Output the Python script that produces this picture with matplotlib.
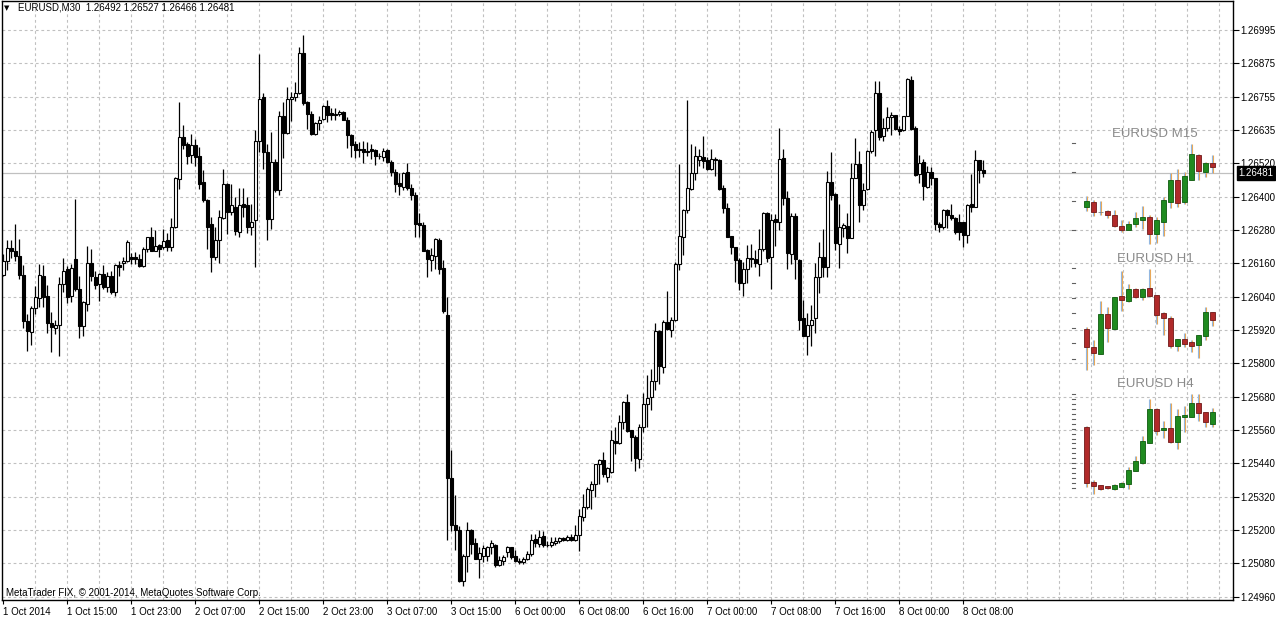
import numpy as np
from matplotlib import pyplot as plt

plt.rcParams['font.family'] = ['Liberation Sans', 'DejaVu Sans']

# EURUSD M30, 1 Oct 07:00 .. 8 Oct 10:30 (one row per ten bars)
opens = [
    1.26115, 1.26167, 1.26213, 1.26203, 1.26184, 1.26115, 1.25951, 1.25909, 1.25997, 1.26033,
    1.26113, 1.26040, 1.25944, 1.25925, 1.25937, 1.26083, 1.26135, 1.26039, 1.26173, 1.26065,
    1.25933, 1.26011, 1.26159, 1.26109, 1.26081, 1.26119, 1.26071, 1.26112, 1.26053, 1.26151,
    1.26159, 1.26165, 1.26181, 1.26179, 1.26174, 1.26147, 1.26208, 1.26251, 1.26203, 1.26223,
    1.26214, 1.26241, 1.26215, 1.26288, 1.26460, 1.26609, 1.26587, 1.26545, 1.26581, 1.26541,
    1.26448, 1.26385, 1.26297, 1.26181, 1.26241, 1.26321, 1.26441, 1.26341, 1.26361, 1.26269,
    1.26369, 1.26365, 1.26288, 1.26311, 1.26597, 1.26755, 1.26556, 1.26317, 1.26520, 1.26420,
    1.26687, 1.26626, 1.26747, 1.26755, 1.26769, 1.26913, 1.26735, 1.26694, 1.26620, 1.26662,
    1.26675, 1.26722, 1.26696, 1.26695, 1.26694, 1.26699, 1.26672, 1.26619, 1.26584, 1.26566,
    1.26566, 1.26562, 1.26566, 1.26565, 1.26543, 1.26539, 1.26565, 1.26522, 1.26485, 1.26445,
    1.26432, 1.26484, 1.26426, 1.26401, 1.26303, 1.26294, 1.26206, 1.26168, 1.26184, 1.26241,
    1.26139, 1.25972, 1.25385, 1.25219, 1.25201, 1.25017, 1.25105, 1.25201, 1.25152, 1.25097,
    1.25107, 1.25107, 1.25137, 1.25147, 1.25075, 1.25089, 1.25119, 1.25137, 1.25107, 1.25089,
    1.25083, 1.25095, 1.25113, 1.25166, 1.25149, 1.25178, 1.25147, 1.25145, 1.25153, 1.25161,
    1.25171, 1.25165, 1.25175, 1.25165, 1.25183, 1.25245, 1.25281, 1.25343, 1.25365, 1.25435,
    1.25451, 1.25391, 1.25407, 1.25519, 1.25511, 1.25587, 1.25659, 1.25557, 1.25535, 1.25455,
    1.25571, 1.25653, 1.25677, 1.25733, 1.25913, 1.25785, 1.25945, 1.25919, 1.25953, 1.26155,
    1.26251, 1.26347, 1.26423, 1.26483, 1.26527, 1.26539, 1.26529, 1.26497, 1.26531, 1.26529,
    1.26427, 1.26355, 1.26255, 1.26215, 1.26169, 1.26085, 1.26135, 1.26175, 1.26171, 1.26155,
    1.26207, 1.26339, 1.26179, 1.26315, 1.26305, 1.26535, 1.26391, 1.26191, 1.26327, 1.26169,
    1.25959, 1.25897, 1.25935, 1.25959, 1.26109, 1.26181, 1.26143, 1.26449, 1.26407, 1.26227,
    1.26283, 1.26291, 1.26247, 1.26463, 1.26513, 1.26365, 1.26423, 1.26559, 1.26635, 1.26769,
    1.26613, 1.26643, 1.26683, 1.26689, 1.26639, 1.26635, 1.26685, 1.26817, 1.26643, 1.26479,
    1.26521, 1.26431, 1.26485, 1.26463, 1.26299, 1.26287, 1.26349, 1.26331, 1.26321, 1.26307,
    1.26307, 1.26257, 1.26371, 1.26361, 1.26527, 1.26492,
]
highs = [
    1.26191, 1.26239, 1.26239, 1.26297, 1.26245, 1.26151, 1.25975, 1.26004, 1.26077, 1.26155,
    1.26151, 1.26079, 1.25981, 1.25953, 1.26107, 1.26177, 1.26149, 1.26155, 1.26389, 1.26113,
    1.26023, 1.26221, 1.26207, 1.26129, 1.26121, 1.26151, 1.26125, 1.26131, 1.26155, 1.26167,
    1.26181, 1.26241, 1.26193, 1.26197, 1.26189, 1.26217, 1.26253, 1.26289, 1.26275, 1.26227,
    1.26281, 1.26265, 1.26321, 1.26467, 1.26735, 1.26655, 1.26593, 1.26623, 1.26605, 1.26575,
    1.26491, 1.26389, 1.26323, 1.26289, 1.26347, 1.26497, 1.26445, 1.26443, 1.26395, 1.26429,
    1.26429, 1.26395, 1.26369, 1.26636, 1.26909, 1.26767, 1.26584, 1.26627, 1.26533, 1.26704,
    1.26737, 1.26791, 1.26771, 1.26807, 1.26935, 1.26978, 1.26739, 1.26704, 1.26664, 1.26687,
    1.26724, 1.26742, 1.26716, 1.26713, 1.26707, 1.26703, 1.26681, 1.26623, 1.26597, 1.26591,
    1.26597, 1.26593, 1.26584, 1.26568, 1.26552, 1.26571, 1.26568, 1.26529, 1.26494, 1.26481,
    1.26485, 1.26516, 1.26442, 1.26414, 1.26337, 1.26307, 1.26210, 1.26213, 1.26249, 1.26249,
    1.26169, 1.26036, 1.25485, 1.25324, 1.25213, 1.25114, 1.25227, 1.25204, 1.25172, 1.25139,
    1.25146, 1.25142, 1.25163, 1.25149, 1.25107, 1.25111, 1.25143, 1.25139, 1.25127, 1.25099,
    1.25103, 1.25123, 1.25185, 1.25185, 1.25199, 1.25197, 1.25159, 1.25173, 1.25175, 1.25175,
    1.25175, 1.25183, 1.25185, 1.25219, 1.25275, 1.25329, 1.25355, 1.25377, 1.25437, 1.25455,
    1.25481, 1.25425, 1.25557, 1.25571, 1.25611, 1.25661, 1.25687, 1.25559, 1.25539, 1.25579,
    1.25691, 1.25757, 1.25779, 1.25941, 1.25917, 1.25955, 1.26057, 1.25963, 1.26163, 1.26515,
    1.26351, 1.26745, 1.26587, 1.26579, 1.26567, 1.26615, 1.26539, 1.26567, 1.26539, 1.26531,
    1.26439, 1.26373, 1.26255, 1.26217, 1.26175, 1.26163, 1.26223, 1.26227, 1.26205, 1.26279,
    1.26343, 1.26343, 1.26335, 1.26335, 1.26643, 1.26569, 1.26415, 1.26337, 1.26337, 1.26171,
    1.26025, 1.25979, 1.26007, 1.26159, 1.26235, 1.26279, 1.26487, 1.26555, 1.26409, 1.26371,
    1.26301, 1.26337, 1.26517, 1.26607, 1.26561, 1.26445, 1.26565, 1.26637, 1.26811, 1.26811,
    1.26679, 1.26719, 1.26699, 1.26691, 1.26651, 1.26687, 1.26823, 1.26829, 1.26649, 1.26547,
    1.26531, 1.26505, 1.26503, 1.26463, 1.26307, 1.26351, 1.26351, 1.26369, 1.26325, 1.26335,
    1.26307, 1.26369, 1.26479, 1.26565, 1.26527, 1.26527,
]
lows = [
    1.26113, 1.26133, 1.26177, 1.26167, 1.26101, 1.25925, 1.25841, 1.25865, 1.25975, 1.26001,
    1.26001, 1.25905, 1.25837, 1.25903, 1.25825, 1.26053, 1.26013, 1.26017, 1.26059, 1.25889,
    1.25897, 1.25987, 1.26095, 1.26065, 1.26021, 1.26065, 1.26053, 1.26047, 1.26041, 1.26113,
    1.26133, 1.26160, 1.26155, 1.26155, 1.26145, 1.26145, 1.26199, 1.26201, 1.26201, 1.26181,
    1.26209, 1.26203, 1.26203, 1.26285, 1.26424, 1.26567, 1.26515, 1.26517, 1.26505, 1.26425,
    1.26377, 1.26209, 1.26125, 1.26169, 1.26157, 1.26317, 1.26261, 1.26329, 1.26257, 1.26251,
    1.26323, 1.26265, 1.26259, 1.26143, 1.26556, 1.26494, 1.26240, 1.26281, 1.26414, 1.26404,
    1.26535, 1.26623, 1.26668, 1.26739, 1.26765, 1.26724, 1.26638, 1.26617, 1.26617, 1.26636,
    1.26672, 1.26664, 1.26672, 1.26671, 1.26685, 1.26671, 1.26571, 1.26539, 1.26535, 1.26539,
    1.26517, 1.26543, 1.26533, 1.26511, 1.26533, 1.26526, 1.26517, 1.26472, 1.26414, 1.26401,
    1.26419, 1.26420, 1.26384, 1.26251, 1.26253, 1.26200, 1.26107, 1.26129, 1.26137, 1.26117,
    1.25980, 1.25165, 1.25195, 1.25127, 1.25013, 1.24998, 1.25047, 1.25114, 1.25094, 1.25027,
    1.25085, 1.25088, 1.25114, 1.25067, 1.25071, 1.25075, 1.25101, 1.25095, 1.25083, 1.25079,
    1.25077, 1.25093, 1.25107, 1.25137, 1.25137, 1.25137, 1.25139, 1.25139, 1.25147, 1.25151,
    1.25159, 1.25159, 1.25161, 1.25161, 1.25125, 1.25233, 1.25275, 1.25275, 1.25319, 1.25365,
    1.25389, 1.25371, 1.25403, 1.25471, 1.25509, 1.25563, 1.25551, 1.25447, 1.25411, 1.25423,
    1.25551, 1.25569, 1.25631, 1.25701, 1.25725, 1.25763, 1.25917, 1.25891, 1.25951, 1.26133,
    1.26187, 1.26339, 1.26419, 1.26457, 1.26505, 1.26499, 1.26493, 1.26493, 1.26471, 1.26421,
    1.26339, 1.26253, 1.26191, 1.26091, 1.26060, 1.26039, 1.26085, 1.26145, 1.26145, 1.26113,
    1.26203, 1.26163, 1.26065, 1.26221, 1.26277, 1.26367, 1.26137, 1.26155, 1.26099, 1.25919,
    1.25897, 1.25827, 1.25859, 1.25905, 1.26051, 1.26109, 1.26109, 1.26385, 1.26205, 1.26139,
    1.26251, 1.26195, 1.26247, 1.26463, 1.26307, 1.26347, 1.26421, 1.26553, 1.26543, 1.26601,
    1.26597, 1.26631, 1.26619, 1.26637, 1.26619, 1.26633, 1.26685, 1.26637, 1.26469, 1.26445,
    1.26383, 1.26427, 1.26439, 1.26275, 1.26271, 1.26279, 1.26283, 1.26313, 1.26263, 1.26241,
    1.26217, 1.26229, 1.26343, 1.26361, 1.26445, 1.26466,
]
closes = [
    1.26167, 1.26213, 1.26201, 1.26184, 1.26115, 1.25949, 1.25913, 1.25997, 1.26035, 1.26115,
    1.26035, 1.25941, 1.25927, 1.25937, 1.26083, 1.26131, 1.26035, 1.26142, 1.26065, 1.25931,
    1.26019, 1.26159, 1.26111, 1.26079, 1.26119, 1.26073, 1.26113, 1.26053, 1.26151, 1.26145,
    1.26167, 1.26232, 1.26172, 1.26172, 1.26147, 1.26209, 1.26251, 1.26203, 1.26220, 1.26209,
    1.26237, 1.26215, 1.26288, 1.26465, 1.26609, 1.26581, 1.26541, 1.26581, 1.26539, 1.26441,
    1.26385, 1.26289, 1.26181, 1.26241, 1.26325, 1.26441, 1.26341, 1.26365, 1.26273, 1.26365,
    1.26359, 1.26289, 1.26307, 1.26597, 1.26747, 1.26556, 1.26317, 1.26520, 1.26420, 1.26687,
    1.26626, 1.26747, 1.26755, 1.26769, 1.26913, 1.26733, 1.26694, 1.26620, 1.26662, 1.26672,
    1.26722, 1.26690, 1.26690, 1.26691, 1.26700, 1.26672, 1.26619, 1.26582, 1.26564, 1.26564,
    1.26558, 1.26557, 1.26560, 1.26542, 1.26543, 1.26562, 1.26520, 1.26485, 1.26442, 1.26436,
    1.26481, 1.26426, 1.26404, 1.26297, 1.26293, 1.26201, 1.26171, 1.26187, 1.26244, 1.26137,
    1.25984, 1.25387, 1.25219, 1.25201, 1.25017, 1.25105, 1.25198, 1.25150, 1.25097, 1.25118,
    1.25136, 1.25137, 1.25152, 1.25075, 1.25093, 1.25103, 1.25139, 1.25101, 1.25087, 1.25083,
    1.25097, 1.25113, 1.25163, 1.25151, 1.25175, 1.25147, 1.25147, 1.25155, 1.25161, 1.25169,
    1.25165, 1.25175, 1.25165, 1.25183, 1.25250, 1.25283, 1.25345, 1.25365, 1.25435, 1.25451,
    1.25399, 1.25421, 1.25521, 1.25513, 1.25587, 1.25659, 1.25555, 1.25533, 1.25457, 1.25571,
    1.25653, 1.25675, 1.25733, 1.25913, 1.25787, 1.25945, 1.25921, 1.25955, 1.26155, 1.26255,
    1.26349, 1.26427, 1.26481, 1.26543, 1.26543, 1.26523, 1.26495, 1.26531, 1.26529, 1.26423,
    1.26355, 1.26253, 1.26215, 1.26169, 1.26085, 1.26137, 1.26175, 1.26171, 1.26157, 1.26207,
    1.26339, 1.26175, 1.26313, 1.26307, 1.26531, 1.26391, 1.26193, 1.26327, 1.26171, 1.25955,
    1.25897, 1.25935, 1.25955, 1.26107, 1.26181, 1.26143, 1.26449, 1.26401, 1.26229, 1.26287,
    1.26295, 1.26247, 1.26463, 1.26513, 1.26365, 1.26421, 1.26559, 1.26629, 1.26769, 1.26611,
    1.26643, 1.26683, 1.26689, 1.26639, 1.26631, 1.26685, 1.26819, 1.26641, 1.26475, 1.26517,
    1.26433, 1.26485, 1.26463, 1.26299, 1.26289, 1.26349, 1.26329, 1.26321, 1.26271, 1.26269,
    1.26257, 1.26367, 1.26359, 1.26527, 1.26491, 1.26481,
]

time_labels = ['1 Oct 2014', '1 Oct 15:00', '1 Oct 23:00', '2 Oct 07:00', '2 Oct 15:00',
               '2 Oct 23:00', '3 Oct 07:00', '3 Oct 15:00', '6 Oct 00:00', '6 Oct 08:00',
               '6 Oct 16:00', '7 Oct 00:00', '7 Oct 08:00', '7 Oct 16:00', '8 Oct 00:00',
               '8 Oct 08:00']
price_labels = ['1.24960', '1.25080', '1.25200', '1.25320', '1.25440', '1.25560', '1.25680',
                '1.25800', '1.25920', '1.26040', '1.26160', '1.26280', '1.26400', '1.26520',
                '1.26635', '1.26755', '1.26875', '1.26995']

# small overlay charts of other timeframes, drawn in the chart's price space
m15_open = [1.26360, 1.26377, 1.26342, 1.26346, 1.26332, 1.26290, 1.26278, 1.26300, 1.26314, 1.26325,
            1.26264, 1.26306, 1.26378, 1.26458, 1.26378, 1.26458, 1.26546, 1.26486, 1.26516]
m15_high = [1.26398, 1.26384, 1.26380, 1.26350, 1.26348, 1.26312, 1.26310, 1.26342, 1.26362, 1.26332,
            1.26324, 1.26394, 1.26480, 1.26494, 1.26486, 1.26586, 1.26550, 1.26522, 1.26546]
m15_low = [1.26346, 1.26328, 1.26332, 1.26320, 1.26286, 1.26270, 1.26276, 1.26288, 1.26282, 1.26226,
           1.26230, 1.26256, 1.26354, 1.26358, 1.26370, 1.26456, 1.26458, 1.26468, 1.26480]
m15_close = [1.26380, 1.26342, 1.26342, 1.26330, 1.26290, 1.26278, 1.26300, 1.26318, 1.26325, 1.26264,
             1.26312, 1.26384, 1.26456, 1.26374, 1.26470, 1.26550, 1.26490, 1.26516, 1.26502]

h1_open = [1.25921, 1.25857, 1.25832, 1.25975, 1.25921, 1.26041, 1.26023, 1.26065, 1.26037, 1.26069,
           1.26043, 1.25979, 1.25961, 1.25861, 1.25887, 1.25875, 1.25865, 1.25897, 1.25981]
h1_high = [1.25929, 1.25881, 1.26021, 1.26001, 1.26037, 1.26129, 1.26081, 1.26069, 1.26067, 1.26137,
           1.26043, 1.25983, 1.25967, 1.25887, 1.25905, 1.25883, 1.25899, 1.26001, 1.25983]
h1_low = [1.25773, 1.25793, 1.25832, 1.25875, 1.25921, 1.25987, 1.26017, 1.26031, 1.26025, 1.26037,
          1.25939, 1.25899, 1.25853, 1.25841, 1.25857, 1.25837, 1.25817, 1.25881, 1.25933]
h1_close = [1.25857, 1.25835, 1.25975, 1.25925, 1.26037, 1.26025, 1.26065, 1.26037, 1.26065, 1.26041,
            1.25971, 1.25959, 1.25861, 1.25887, 1.25867, 1.25861, 1.25899, 1.25981, 1.25953]

h4_open = [1.25568, 1.25372, 1.25360, 1.25356, 1.25347, 1.25354, 1.25366, 1.25412, 1.25440, 1.25512,
           1.25634, 1.25560, 1.25564, 1.25516, 1.25606, 1.25606, 1.25654, 1.25623, 1.25580]
h4_high = [1.25572, 1.25378, 1.25362, 1.25358, 1.25364, 1.25371, 1.25426, 1.25464, 1.25536, 1.25670,
           1.25636, 1.25592, 1.25654, 1.25635, 1.25644, 1.25686, 1.25688, 1.25623, 1.25636]
h4_low = [1.25352, 1.25328, 1.25342, 1.25346, 1.25344, 1.25352, 1.25348, 1.25410, 1.25436, 1.25512,
          1.25540, 1.25530, 1.25510, 1.25491, 1.25552, 1.25606, 1.25592, 1.25570, 1.25568]
h4_close = [1.25368, 1.25358, 1.25348, 1.25350, 1.25360, 1.25368, 1.25414, 1.25446, 1.25518, 1.25634,
            1.25556, 1.25566, 1.25516, 1.25608, 1.25612, 1.25654, 1.25620, 1.25588, 1.25622]

W, H = 1276, 619
GRID = '#c0c0c0'


def draw_main_candles(ax):
    o, h, l, c = map(np.array, (opens, highs, lows, closes))
    x = np.arange(len(o))
    bull = c >= o
    ax.vlines(x, l, h, color='black', lw=0.9, zorder=2)
    ax.bar(x, np.abs(c - o), bottom=np.minimum(o, c), width=0.6,
           color=np.where(bull, 'white', 'black'), edgecolor='black', linewidth=0.8, zorder=3)


def draw_mini(ax, title, o, h, l, c, x0, tick_top, tick_bot, n_ticks, title_y):
    o, h, l, c = map(np.array, (o, h, l, c))
    x = x0 + 1.75 * np.arange(len(o))
    ax.vlines(x - 0.13, l, h, color='#8fb8e8', lw=0.8, zorder=4)
    ax.vlines(x + 0.13, l, h, color='#e8a858', lw=0.8, zorder=4)
    face = np.where(c > o, '#1f8a1f', np.where(c < o, '#b02a2a', '#808080'))
    edge = np.where(c > o, '#0d5a0d', np.where(c < o, '#701818', '#808080'))
    ax.bar(x, np.abs(c - o), bottom=np.minimum(o, c), width=1.25,
           color=face, edgecolor=edge, linewidth=0.6, zorder=5)
    for t in np.linspace(tick_top, tick_bot, n_ticks):
        ax.plot([267.2, 268.0], [t, t], color='#606060', lw=0.8, zorder=4)
    ax.text(287.9, title_y, title, color='#8a8a8a', fontsize=9.5,
            ha='center', va='center', zorder=6)


def main():
    fig = plt.figure(figsize=(W / 100, H / 100), dpi=100)
    left, right, top, bottom = 2, 1233, 1, 600
    ax = fig.add_axes([left / W, 1 - bottom / H, (right - left) / W, (bottom - top) / H])
    ax.set_xlim(-0.33, 307.4)
    ax.set_ylim(1.24948, 1.27099)

    levels = np.linspace(1.24960, 1.26995, len(price_labels))
    for y in levels:
        ax.axhline(y, color=GRID, lw=0.8, ls=(0, (2.5, 2.5)), zorder=0)
    for xv in np.arange(8, 308, 8):
        ax.axvline(xv, color=GRID, lw=0.8, ls=(0, (2.5, 2.5)), zorder=0)

    draw_main_candles(ax)
    ax.axhline(closes[-1], color='#c0c0c0', lw=0.9, zorder=1)

    draw_mini(ax, 'EURUSD M15', m15_open, m15_high, m15_low, m15_close,
              270.7, 1.26588, 1.26276, 4, 1.26622)
    draw_mini(ax, 'EURUSD H1', h1_open, h1_high, h1_low, h1_close,
              270.7, 1.26141, 1.25815, 7, 1.26173)
    draw_mini(ax, 'EURUSD H4', h4_open, h4_high, h4_low, h4_close,
              270.7, 1.25688, 1.25350, 20, 1.25724)

    ax.yaxis.tick_right()
    ax.set_yticks(levels)
    ax.set_yticklabels(price_labels)
    ax.set_xticks(np.arange(len(time_labels)) * 16)
    ax.set_xticklabels(time_labels)
    for lbl in ax.get_xticklabels():
        lbl.set_ha('left')
    ax.tick_params(axis='y', length=4, width=0.8, labelsize=7, pad=1.5)
    ax.tick_params(axis='x', length=3, width=0.8, labelsize=7, pad=2)
    for s in ax.spines.values():
        s.set_linewidth(1.0)

    # current bid label
    ax.text(1.0045, closes[-1], '%.5f' % closes[-1], transform=ax.get_yaxis_transform(),
            color='white', fontsize=7, va='center', ha='left', zorder=10,
            bbox=dict(boxstyle='square,pad=0.2', fc='black', ec='black'))

    header = 'EURUSD,M30  %.5f %.5f %.5f %.5f' % (opens[-1], highs[-1], lows[-1], closes[-1])
    fig.text(4 / W, 1 - 8 / H, '\u25bc', fontsize=5, va='center', ha='left',
             family='DejaVu Sans')
    fig.text(18 / W, 1 - 8 / H, header, fontsize=7, va='center', ha='left')
    fig.text(6 / W, 1 - 593 / H, 'MetaTrader FIX, \u00a9 2001-2014, MetaQuotes Software Corp.',
             fontsize=7, va='center', ha='left')

    fig.savefig('out.png', dpi=100, facecolor='white')


if __name__ == '__main__':
    main()
